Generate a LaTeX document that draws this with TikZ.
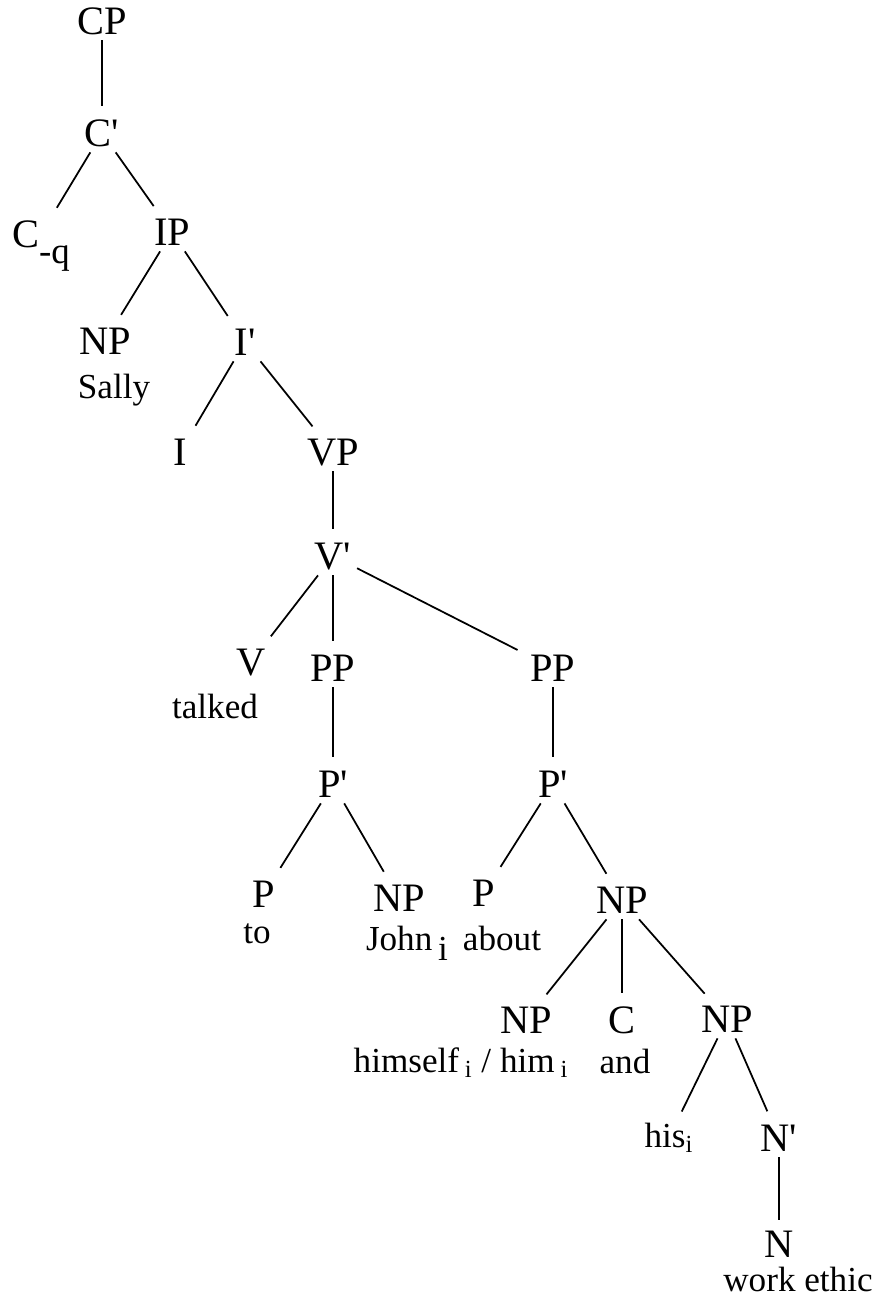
\documentclass[tikz,border=0pt]{standalone}
\usepackage{fontspec}
\setmainfont{Liberation Serif}
\newcommand{\barmark}{\textquotesingle}

\begin{document}
\begin{tikzpicture}
  [x=0.02cm,y=-0.02cm,line width=1pt,
   cat/.style={font=\fontsize{23}{23}\selectfont,text height=0.54cm,text depth=0pt,inner sep=0.1cm},
   word/.style={font=\fontsize{20}{20}\selectfont,anchor=base,inner sep=0.06cm},
   branch/.style={shorten >=0.16cm}]
  \useasboundingbox (0,0) rectangle (878,1305);

  % categories
  \node[cat] (cp) at (102,21) {CP};
  \node[cat] (cbar) at (102,133) {C\barmark};
  \node[cat] (cq) at (41,234) {C\raisebox{-0.4em}{\fontsize{21}{21}\selectfont -q}};
  \node[cat] (ip) at (172,232) {IP};
  \node[cat] (npsubj) at (105,341) {NP};
  \node[cat] (ibar) at (245,342) {I\barmark};
  \node[cat] (i) at (180,452) {I};
  \node[cat] (vp) at (333,452) {VP};
  \node[cat] (vbar) at (333,556) {V\barmark};
  \node[cat] (v) at (251,662) {V};
  \node[cat] (ppto) at (333,668) {PP};
  \node[cat] (ppabout) at (553,668) {PP};
  \node[cat] (pbarto) at (333,784) {P\barmark};
  \node[cat] (pbarabout) at (553,784) {P\barmark};
  \node[cat] (pto) at (264,894) {P};
  \node[cat] (npjohn) at (399,898) {NP};
  \node[cat] (pabout) at (484,893) {P};
  \node[cat] (npconj) at (622,900) {NP};
  \node[cat] (npself) at (526,1020) {NP};
  \node[cat] (c) at (622,1020) {C};
  \node[cat] (npethic) at (727,1019) {NP};
  \node[cat] (nbar) at (779,1138) {N\barmark};
  \node[cat,inner ysep=0.04cm] (n) at (779,1244) {N};

  % words
  \node[word] (sally) at (114,398) {Sally};
  \node[word] (talked) at (215,718) {talked};
  \node[word] (to) at (257,943) {to};
  \node[word] (john) at (407,950) {John\,\raisebox{-0.3em}{i}};
  \node[word] (about) at (502,950) {about};
  \node[word] (himself) at (461,1072) {himself\,\textsubscript{i} / him\,\textsubscript{i}};
  \node[word] (and) at (625,1073) {and};
  \node[word] (his) at (669,1147) {his\textsubscript{i}};
  \node[word,inner sep=0pt] (workethic) at (798,1291) {work ethic};

  \foreach \from/\to in {cp/cbar,cbar/cq,cbar/ip,ip/npsubj,ip/ibar,ibar/i,ibar/vp,
      vp/vbar,vbar/v,vbar/ppto,vbar/ppabout,ppto/pbarto,ppabout/pbarabout,
      pbarto/pto,pbarto/npjohn,pbarabout/pabout,pbarabout/npconj,
      npconj/npself,npconj/c,npconj/npethic,npethic/his,npethic/nbar,nbar/n}
    \draw[branch] (\from) -- (\to);

\end{tikzpicture}
\end{document}
